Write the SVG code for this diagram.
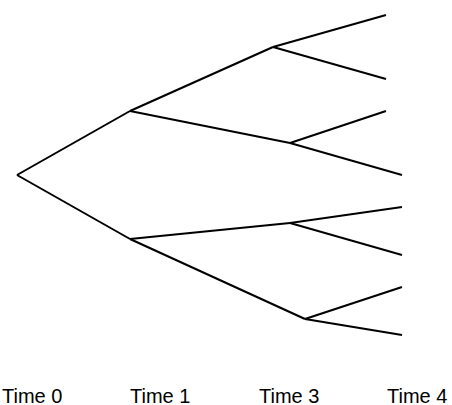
<svg xmlns="http://www.w3.org/2000/svg" width="452" height="405" viewBox="0 0 452 405">
<style>
.e{stroke:#000;stroke-width:2;fill:none;stroke-linecap:butt}
.t{font-family:"Liberation Sans",Arial,sans-serif;font-size:20px;fill:#000}
</style>
<rect width="452" height="405" fill="#fff"/>
<g id="connectors">
<line class="e" x1="17" y1="175" x2="130" y2="111"/>
<line class="e" x1="17" y1="175" x2="130" y2="239"/>
<line class="e" x1="130" y1="111" x2="273" y2="47"/>
<line class="e" x1="130" y1="111" x2="290" y2="143"/>
<line class="e" x1="130" y1="239" x2="290" y2="223"/>
<line class="e" x1="130" y1="239" x2="305" y2="319"/>
<line class="e" x1="273" y1="47" x2="386" y2="15"/>
<line class="e" x1="273" y1="47" x2="386" y2="79"/>
<line class="e" x1="290" y1="143" x2="386" y2="111"/>
<line class="e" x1="290" y1="143" x2="402" y2="175"/>
<line class="e" x1="290" y1="223" x2="402" y2="207"/>
<line class="e" x1="290" y1="223" x2="402" y2="255"/>
<line class="e" x1="305" y1="319" x2="402" y2="287"/>
<line class="e" x1="305" y1="319" x2="402" y2="335"/>
</g>
<g id="labels">
<text class="t" x="2" y="403">Time 0</text>
<text class="t" x="130" y="403">Time 1</text>
<text class="t" x="259" y="403">Time 3</text>
<text class="t" x="387" y="403">Time 4</text>
</g>
</svg>
